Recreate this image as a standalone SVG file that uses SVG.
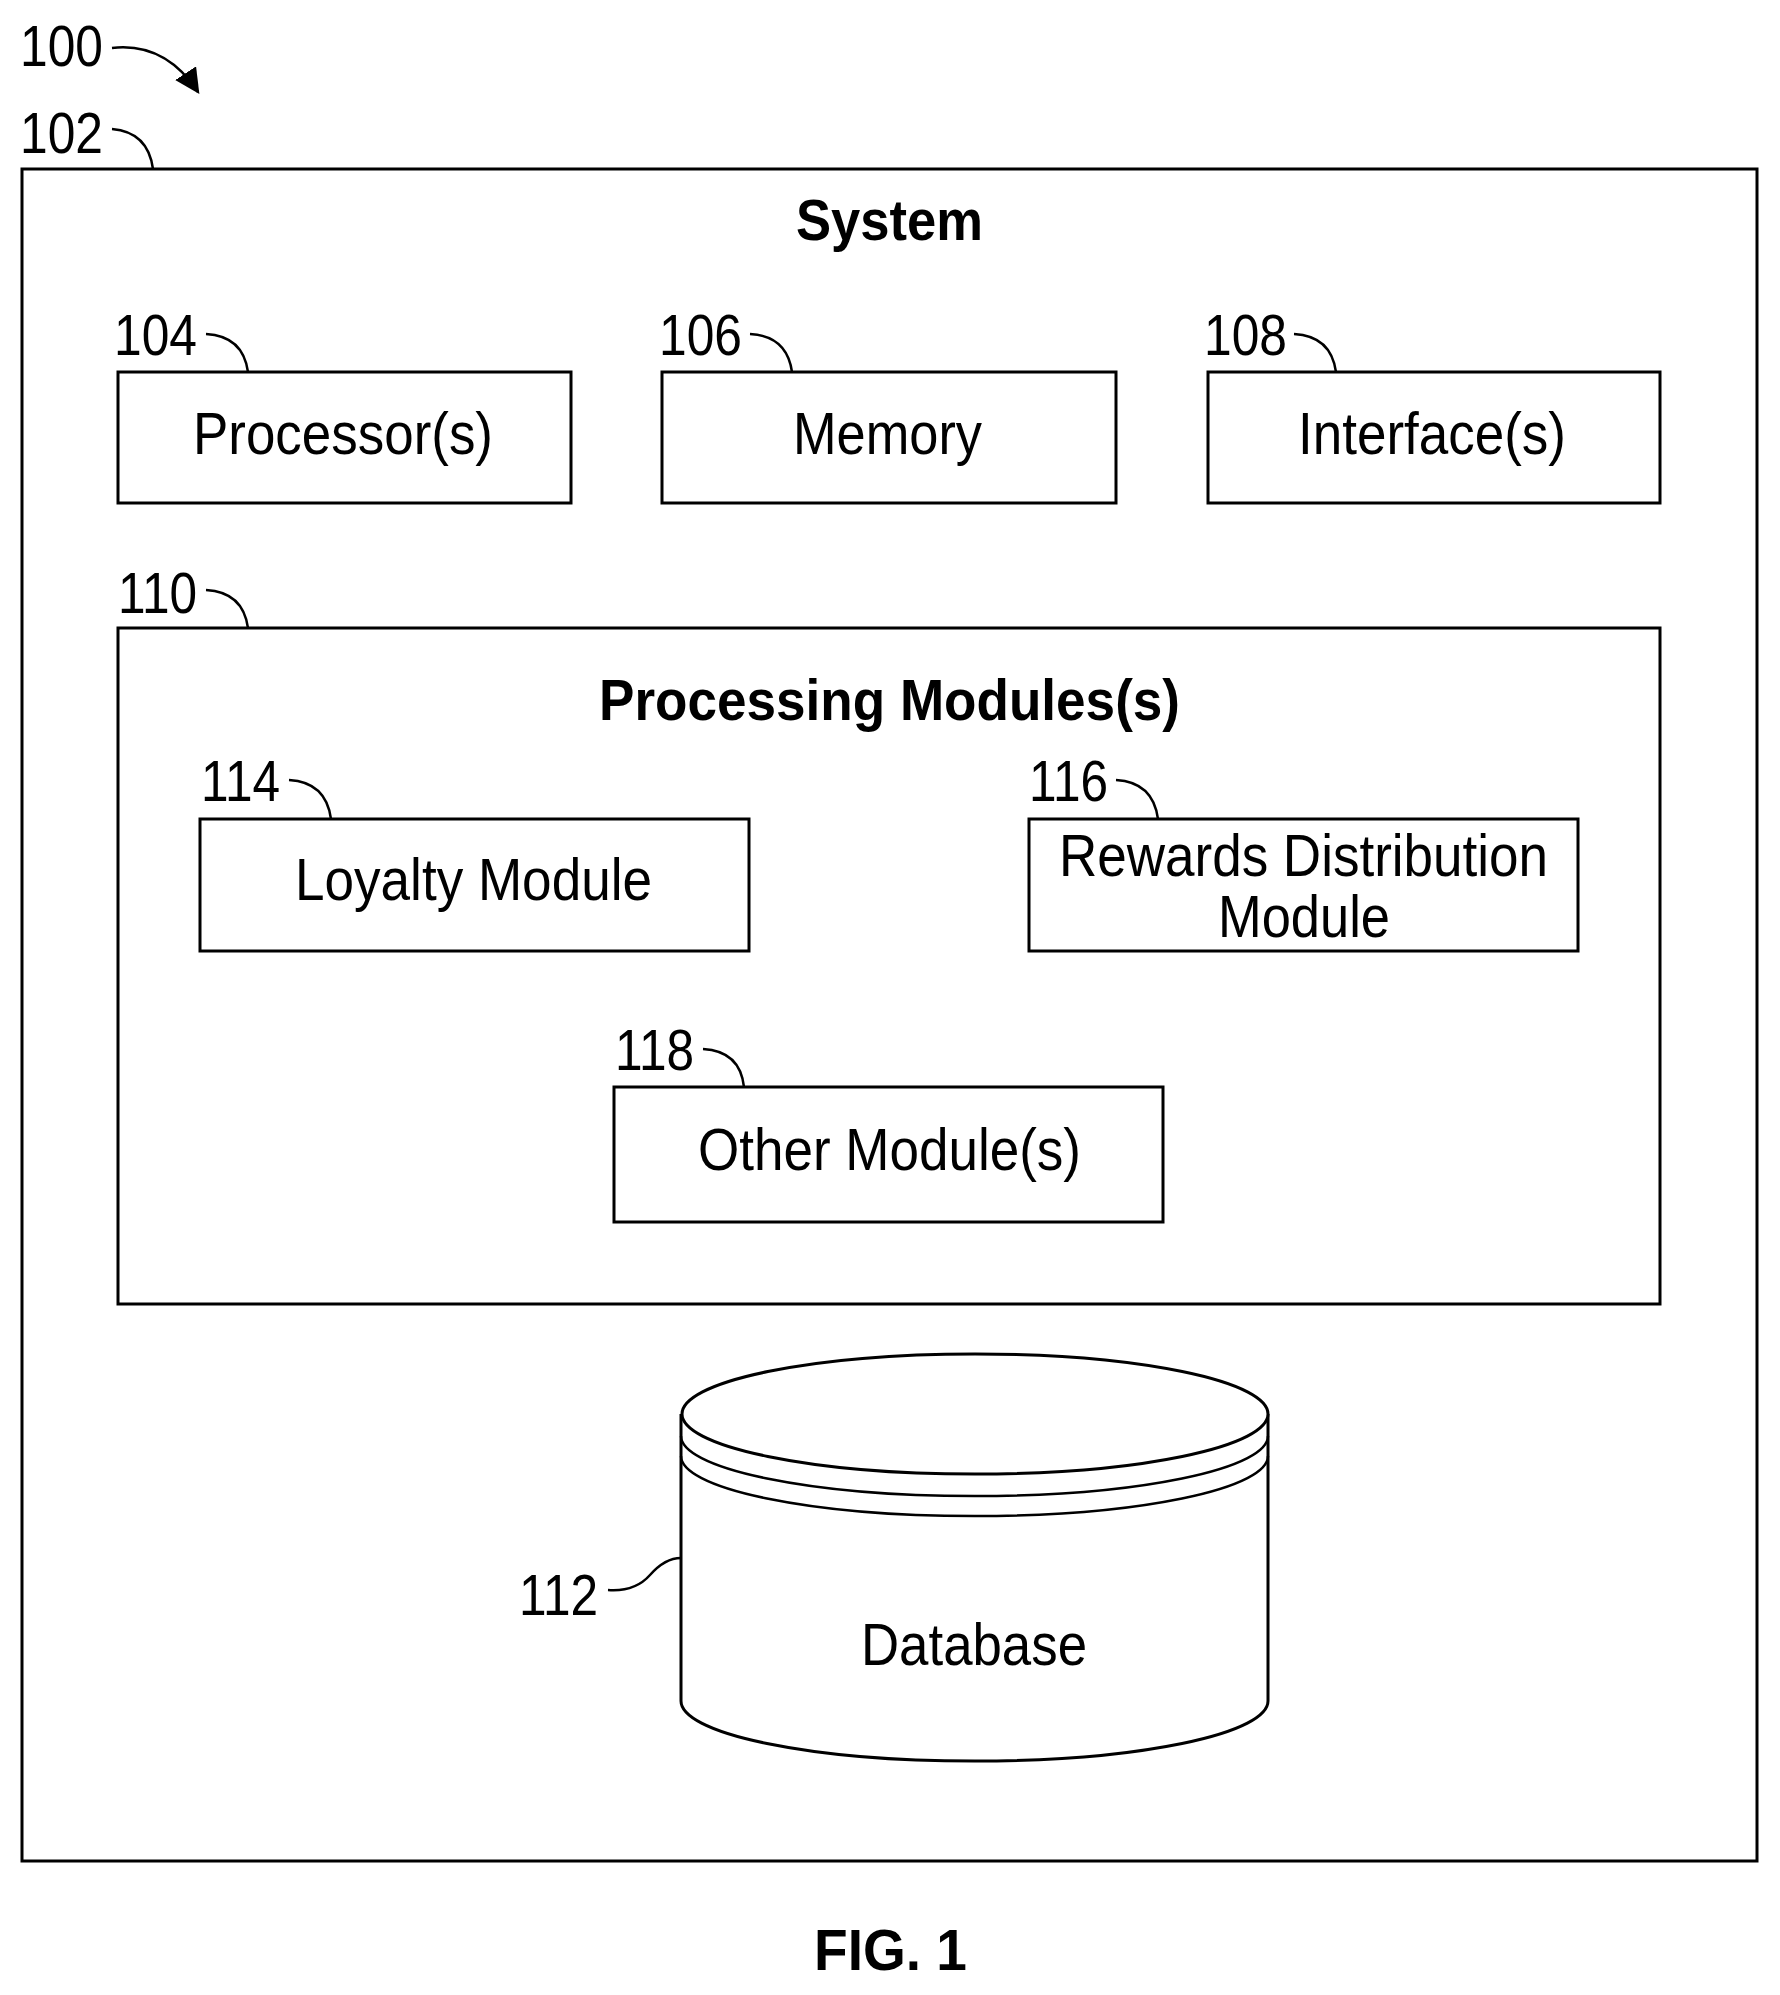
<svg xmlns="http://www.w3.org/2000/svg" width="1780" height="1995" viewBox="0 0 1780 1995">
<style>
text{font-family:"Liberation Sans",Arial,sans-serif;fill:#000}
.lbl{font-size:60px}
.ref{font-size:58px}
.bold{font-weight:bold;font-size:58px}
.box{fill:#fff;stroke:#000;stroke-width:3}
.ld{fill:none;stroke:#000;stroke-width:2.5}
</style>
<defs><marker id="ah" markerWidth="10" markerHeight="10" refX="9" refY="5" orient="auto" markerUnits="strokeWidth"><path d="M0,0 L10,5 L0,10 z" fill="#000"/></marker></defs>
<rect width="1780" height="1995" fill="#fff"/>
<g id="system"><rect class="box" x="22" y="169" width="1735" height="1692" stroke-width="4"/><text class="bold" x="796" y="240" textLength="187" lengthAdjust="spacingAndGlyphs">System</text></g>
<g id="processor"><rect class="box" x="118" y="372" width="453" height="131"/><text class="lbl" x="193" y="454" textLength="300" lengthAdjust="spacingAndGlyphs">Processor(s)</text></g>
<g id="memory"><rect class="box" x="662" y="372" width="454" height="131"/><text class="lbl" x="793" y="454" textLength="189" lengthAdjust="spacingAndGlyphs">Memory</text></g>
<g id="interface"><rect class="box" x="1208" y="372" width="452" height="131"/><text class="lbl" x="1298" y="454" textLength="268" lengthAdjust="spacingAndGlyphs">Interface(s)</text></g>
<g id="processing"><rect class="box" x="118" y="628" width="1542" height="676"/><text class="bold" x="599" y="720" textLength="581" lengthAdjust="spacingAndGlyphs">Processing Modules(s)</text></g>
<g id="loyalty"><rect class="box" x="200" y="819" width="549" height="132"/><text class="lbl" x="295" y="900" textLength="357" lengthAdjust="spacingAndGlyphs">Loyalty Module</text></g>
<g id="rewards"><rect class="box" x="1029" y="819" width="549" height="132"/><text class="lbl" x="1059" y="876" textLength="489" lengthAdjust="spacingAndGlyphs">Rewards Distribution</text><text class="lbl" x="1218" y="937" textLength="172" lengthAdjust="spacingAndGlyphs">Module</text></g>
<g id="other"><rect class="box" x="614" y="1087" width="549" height="135"/><text class="lbl" x="698" y="1170" textLength="383" lengthAdjust="spacingAndGlyphs">Other Module(s)</text></g>
<g id="database">
<path class="box" d="M681,1414 L681,1701 A293,60 0 0 0 1268,1701 L1268,1414"/>
<ellipse class="box" cx="975" cy="1414" rx="293" ry="60"/>
<path class="ld" stroke-width="3" d="M681,1436 A293,60 0 0 0 1268,1436 M681,1456 A293,60 0 0 0 1268,1456"/>
<text class="lbl" x="861" y="1665" textLength="226" lengthAdjust="spacingAndGlyphs">Database</text></g>
<g id="refs">
<text class="ref" x="20" y="66" textLength="83" lengthAdjust="spacingAndGlyphs">100</text>
<text class="ref" x="20" y="153" textLength="83" lengthAdjust="spacingAndGlyphs">102</text>
<text class="ref" x="114" y="355" textLength="83" lengthAdjust="spacingAndGlyphs">104</text>
<text class="ref" x="659" y="355" textLength="83" lengthAdjust="spacingAndGlyphs">106</text>
<text class="ref" x="1204" y="355" textLength="83" lengthAdjust="spacingAndGlyphs">108</text>
<text class="ref" x="118" y="613" textLength="79" lengthAdjust="spacingAndGlyphs">110</text>
<text class="ref" x="201" y="801" textLength="79" lengthAdjust="spacingAndGlyphs">114</text>
<text class="ref" x="1029" y="801" textLength="79" lengthAdjust="spacingAndGlyphs">116</text>
<text class="ref" x="615" y="1070" textLength="79" lengthAdjust="spacingAndGlyphs">118</text>
<text class="ref" x="519" y="1615" textLength="79" lengthAdjust="spacingAndGlyphs">112</text>
</g>
<g id="connectors">
<path class="ld" d="M112,48 Q165,42 198,92" marker-end="url(#ah)"/>
<path class="ld" d="M112,129 Q148,132 153,169"/>
<path class="ld" d="M206,334 Q243,336 248,372"/>
<path class="ld" d="M750,334 Q787,336 792,372"/>
<path class="ld" d="M1294,334 Q1331,336 1336,372"/>
<path class="ld" d="M206,590 Q243,592 248,628"/>
<path class="ld" d="M289,780 Q326,782 331,819"/>
<path class="ld" d="M1116,780 Q1153,782 1158,819"/>
<path class="ld" d="M703,1049 Q740,1051 744,1087"/>
<path class="ld" d="M608,1590 Q635,1592 650,1575 Q665,1558 681,1558"/>
</g>
<text class="bold" x="814" y="1970" font-size="64" textLength="153" lengthAdjust="spacingAndGlyphs">FIG. 1</text>
</svg>
